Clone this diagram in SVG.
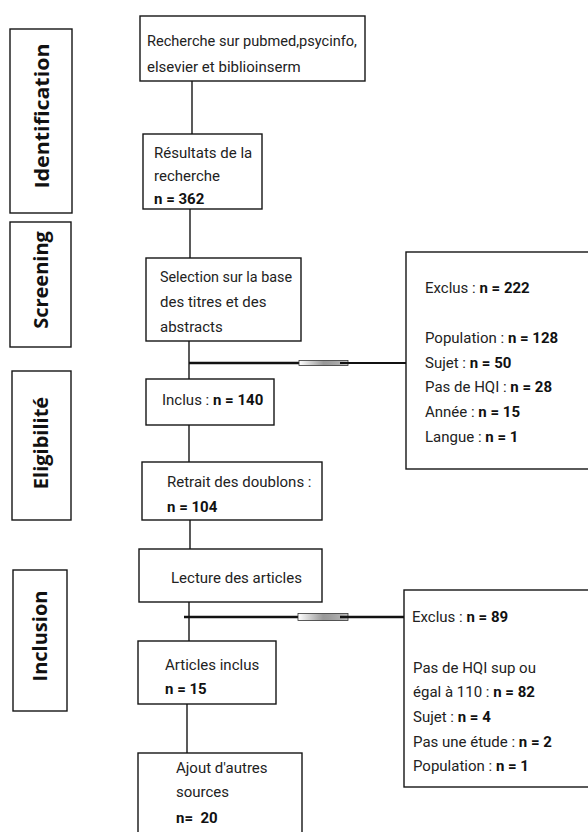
<svg xmlns="http://www.w3.org/2000/svg" width="588" height="832" viewBox="0 0 588 832">
<style>
.box{fill:#fff;stroke:#151515;stroke-width:1.4}
.ln{stroke:#151515;stroke-width:1.4;fill:none}
.t{font-family:Roboto,"Open Sans","DejaVu Sans",sans-serif;font-size:15px;fill:#222}
.b{font-weight:bold;fill:#111}
.lbl{font-family:"Open Sans","DejaVu Sans",sans-serif;font-size:20px;font-weight:bold;fill:#111;text-anchor:middle}
</style>
<defs>
<linearGradient id="fade" x1="0" y1="0" x2="1" y2="0">
<stop offset="0" stop-color="#fff"/>
<stop offset="0.5" stop-color="#999"/>
<stop offset="1" stop-color="#666" stop-opacity="0.4"/>
</linearGradient>
</defs>
<rect width="588" height="832" fill="#fff"/>

<g id="phase-identification"><rect class="box" x="10" y="29" width="62" height="184"/><text class="lbl" transform="translate(49,116) rotate(-90)" textLength="145" lengthAdjust="spacingAndGlyphs">Identification</text></g>
<g id="phase-screening"><rect class="box" x="10" y="222" width="61" height="125"/><text class="lbl" transform="translate(48,280) rotate(-90)">Screening</text></g>
<g id="phase-eligibilite"><rect class="box" x="12" y="371" width="59" height="149"/><text class="lbl" transform="translate(48,443) rotate(-90)">Eligibilité</text></g>
<g id="phase-inclusion"><rect class="box" x="13" y="570" width="54" height="141"/><text class="lbl" transform="translate(47,636) rotate(-90)">Inclusion</text></g>

<g id="connectors">
<line class="ln" x1="192" y1="81" x2="192" y2="134"/>
<line class="ln" x1="190" y1="209" x2="190" y2="258"/>
<line class="ln" x1="189" y1="341" x2="189" y2="379"/>
<line class="ln" x1="189" y1="425" x2="189" y2="462"/>
<line class="ln" x1="190" y1="520" x2="190" y2="549"/>
<line class="ln" x1="189" y1="602" x2="189" y2="641"/>
<line class="ln" x1="187" y1="704" x2="187" y2="753"/>
<line stroke="#111" stroke-width="2.6" x1="189" y1="363" x2="299" y2="363"/>
<rect x="299" y="360.5" width="49" height="5" fill="url(#fade)" stroke="#333" stroke-width="0.8"/>
<line stroke="#111" stroke-width="2.2" x1="340" y1="363" x2="406" y2="363"/>
<line stroke="#111" stroke-width="2.6" x1="184" y1="617" x2="298" y2="617"/>
<rect x="298" y="613.5" width="50" height="7" fill="url(#fade)" stroke="#333" stroke-width="0.8"/>
<line stroke="#111" stroke-width="2.4" x1="340" y1="617" x2="406" y2="617"/>
</g>

<g id="n-recherche"><rect class="box" x="140" y="16" width="225" height="65"/>
<text class="t" x="147" y="46" textLength="210" lengthAdjust="spacingAndGlyphs">Recherche sur pubmed,psycinfo,</text>
<text class="t" x="147" y="72">elsevier et biblioinserm</text></g>

<g id="n-resultats"><rect class="box" x="143" y="134" width="119" height="75"/>
<text class="t" x="154" y="158">Résultats de la</text>
<text class="t" x="154" y="181">recherche</text>
<text class="t b" x="154" y="204">n = 362</text></g>

<g id="n-selection"><rect class="box" x="146" y="258" width="155" height="83"/>
<text class="t" x="160" y="282" textLength="132" lengthAdjust="spacingAndGlyphs">Selection sur la base</text>
<text class="t" x="160" y="307">des titres et des</text>
<text class="t" x="160" y="332">abstracts</text></g>

<g id="n-inclus"><rect class="box" x="146" y="379" width="128" height="46"/>
<text class="t" x="162" y="405">Inclus : <tspan class="b">n = 140</tspan></text></g>

<g id="n-retrait"><rect class="box" x="142" y="462" width="180" height="58"/>
<text class="t" x="167" y="487">Retrait des doublons :</text>
<text class="t b" x="167" y="512">n = 104</text></g>

<g id="n-lecture"><rect class="box" x="139" y="549" width="183" height="53"/>
<text class="t" x="171" y="583">Lecture des articles</text></g>

<g id="n-articles"><rect class="box" x="138" y="641" width="138" height="63"/>
<text class="t" x="165" y="670">Articles inclus</text>
<text class="t b" x="165" y="694">n = 15</text></g>

<g id="n-ajout"><rect class="box" x="138" y="753" width="164" height="90"/>
<text class="t" x="176" y="773">Ajout d'autres</text>
<text class="t" x="176" y="797">sources</text>
<text class="t b" x="176" y="823" xml:space="preserve">n=  20</text></g>

<g id="n-exclus1"><rect class="box" x="406" y="252" width="200" height="217"/>
<text class="t" x="425" y="293">Exclus : <tspan class="b">n = 222</tspan></text>
<text class="t" x="425" y="343">Population : <tspan class="b">n = 128</tspan></text>
<text class="t" x="425" y="368">Sujet : <tspan class="b">n = 50</tspan></text>
<text class="t" x="425" y="392">Pas de HQI : <tspan class="b">n = 28</tspan></text>
<text class="t" x="425" y="417">Année : <tspan class="b">n = 15</tspan></text>
<text class="t" x="425" y="442">Langue : <tspan class="b">n = 1</tspan></text></g>

<g id="n-exclus2"><rect class="box" x="404" y="590" width="200" height="197"/>
<text class="t" x="412" y="622">Exclus : <tspan class="b">n = 89</tspan></text>
<text class="t" x="413" y="673">Pas de HQI sup ou</text>
<text class="t" x="413" y="697">égal à 110 : <tspan class="b">n = 82</tspan></text>
<text class="t" x="413" y="722">Sujet : <tspan class="b">n = 4</tspan></text>
<text class="t" x="413" y="747">Pas une étude : <tspan class="b">n = 2</tspan></text>
<text class="t" x="413" y="771">Population : <tspan class="b">n = 1</tspan></text></g>
</svg>
